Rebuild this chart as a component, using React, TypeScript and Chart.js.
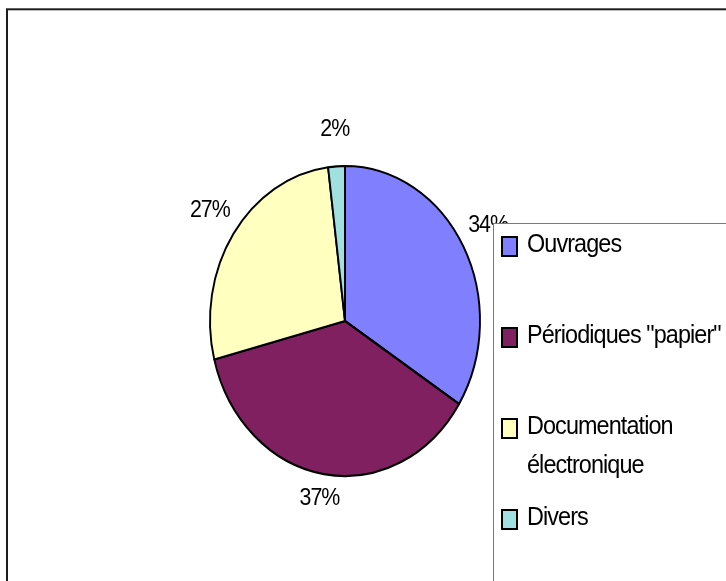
import React, { useEffect, useRef } from "react";
import { Chart, registerables } from "chart.js";

Chart.register(...registerables);

const categories = ["Ouvrages", 'Périodiques "papier"', "Documentation électronique", "Divers"];
const shares = [34, 37, 27, 2];
const sliceColors = ["#8080FF", "#802060", "#FFFFC0", "#A0E0E0"];

const W = 726;
const H = 581;
const SQUEEZE = 135 / 155;
const FONT = '"Liberation Sans", Arial, sans-serif';

function drawScaledText(ctx: CanvasRenderingContext2D, text: string, x: number, y: number, sx: number) {
  ctx.save();
  ctx.translate(x, y);
  ctx.scale(sx, 1);
  ctx.fillText(text, 0, 0);
  ctx.restore();
}

const framePlugin = {
  id: "frame",
  beforeDraw(chart: any) {
    const ctx = chart.ctx as CanvasRenderingContext2D;
    ctx.save();
    ctx.fillStyle = "#ffffff";
    ctx.fillRect(0, 0, chart.width, chart.height);
    ctx.strokeStyle = "#1e1e1e";
    ctx.lineWidth = 2;
    ctx.strokeRect(7, 9.3, chart.width + 50, chart.height + 50);
    ctx.restore();
  },
};

const ellipsePlugin = {
  id: "ellipse",
  beforeDatasetsDraw(chart: any) {
    const ctx = chart.ctx as CanvasRenderingContext2D;
    const arc = chart.getDatasetMeta(0).data[0];
    const cx = arc ? arc.x : chart.width / 2;
    ctx.save();
    ctx.translate(cx, 0);
    ctx.scale(SQUEEZE, 1);
    ctx.translate(-cx, 0);
  },
  afterDatasetsDraw(chart: any) {
    chart.ctx.restore();
  },
};

const labelsPlugin = {
  id: "pctLabels",
  afterDraw(chart: any) {
    const ctx = chart.ctx as CanvasRenderingContext2D;
    const meta = chart.getDatasetMeta(0);
    const values: number[] = chart.data.datasets[0].data;
    const total = values.reduce((a, b) => a + b, 0);
    ctx.save();
    ctx.fillStyle = "#000";
    ctx.font = `23px ${FONT}`;
    (ctx as any).letterSpacing = "-1px";
    ctx.textAlign = "center";
    ctx.textBaseline = "middle";
    meta.data.forEach((arc: any, i: number) => {
      const p = arc.getProps(["x", "y", "startAngle", "endAngle", "outerRadius"], true);
      const mid = (p.startAngle + p.endAngle) / 2;
      const px = p.x + Math.cos(mid) * p.outerRadius * SQUEEZE * 1.21;
      const py = p.y + Math.sin(mid) * p.outerRadius * 1.2 - 6;
      const txt = Math.round((values[i] / total) * 100) + "%";
      drawScaledText(ctx, txt, px, py, 0.93);
    });
    ctx.restore();

    // legend box
    const boxX = 493;
    const boxY = 223.5;
    ctx.save();
    ctx.fillStyle = "#ffffff";
    ctx.fillRect(boxX, boxY, chart.width, chart.height);
    ctx.strokeStyle = "#7a7a7a";
    ctx.lineWidth = 1;
    ctx.strokeRect(boxX + 0.5, boxY, chart.width + 50, chart.height + 50);

    const legendSx = 0.9;
    const labels: string[] = chart.data.labels;
    const colors: string[] = chart.data.datasets[0].backgroundColor;
    ctx.font = `26px ${FONT}`;
    (ctx as any).letterSpacing = "-1px";
    ctx.textAlign = "left";
    ctx.textBaseline = "middle";
    const textX = 527;
    const maxW = chart.width - textX - 2;
    labels.forEach((label, i) => {
      const rowY = 246 + i * 91;
      ctx.fillStyle = colors[i];
      ctx.fillRect(501, rowY - 10, 16, 20);
      ctx.strokeStyle = "#000";
      ctx.lineWidth = 2;
      ctx.strokeRect(502, rowY - 9, 15, 19);
      const words = label.split(" ");
      const lines: string[] = [];
      let cur = "";
      words.forEach((w) => {
        const test = cur ? cur + " " + w : w;
        if (ctx.measureText(test).width * legendSx > maxW && cur) {
          lines.push(cur);
          cur = w;
        } else {
          cur = test;
        }
      });
      if (cur) lines.push(cur);
      ctx.fillStyle = "#000";
      lines.forEach((ln, j) => {
        drawScaledText(ctx, ln, textX, rowY - 1 + j * 39, legendSx);
      });
    });
    ctx.restore();
  },
};

export default function App() {
  const ref = useRef<HTMLCanvasElement | null>(null);
  useEffect(() => {
    if (!ref.current) return;
    const chart = new Chart(ref.current, {
      type: "pie",
      data: {
        labels: categories,
        datasets: [
          {
            data: shares,
            backgroundColor: sliceColors,
            borderColor: "#000000",
            borderWidth: 2.2,
            clip: false,
          } as any,
        ],
      },
      options: {
        responsive: false,
        animation: false,
        events: [],
        radius: 155,
        layout: { padding: { left: 190, right: 226, top: 166, bottom: 105 } },
        plugins: {
          legend: { display: false },
          tooltip: { enabled: false },
          title: { display: false },
        },
      } as any,
      plugins: [framePlugin, ellipsePlugin, labelsPlugin],
    });
    return () => chart.destroy();
  }, []);
  return (
    <div style={{ position: "absolute", left: 0, top: 0, width: W, height: H, background: "#fff" }}>
      <canvas ref={ref} width={W} height={H} style={{ display: "block", width: W, height: H }} />
    </div>
  );
}
